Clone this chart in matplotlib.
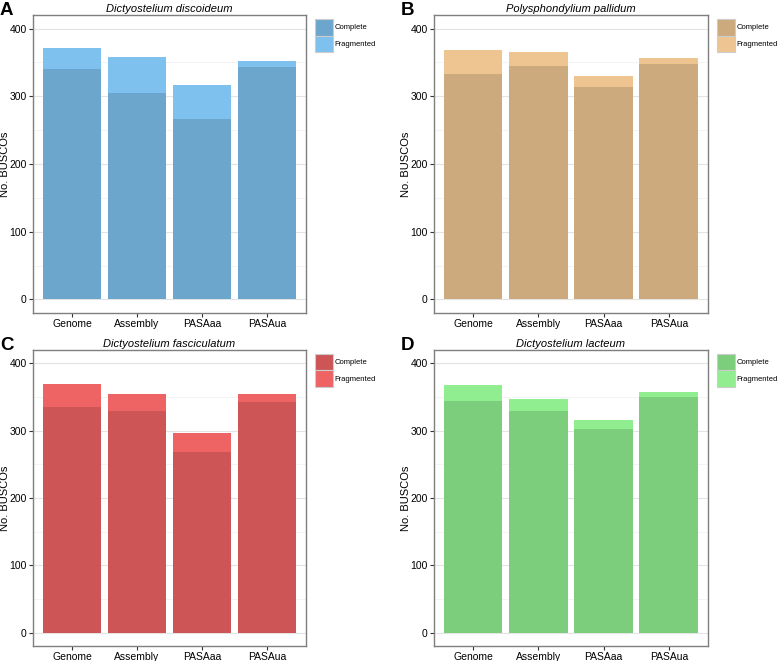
import matplotlib.pyplot as plt
from matplotlib.patches import Patch
from matplotlib.ticker import MultipleLocator

plt.rcParams['font.family'] = ['Liberation Sans', 'DejaVu Sans']

categories = ['Genome', 'Assembly', 'PASAaa', 'PASAua']

species = ['Dictyostelium discoideum', 'Polysphondylium pallidum',
           'Dictyostelium fasciculatum', 'Dictyostelium lacteum']
letters = ['A', 'B', 'C', 'D']

complete_A = [340, 305, 266, 343]
total_A = [371, 358, 316, 352]
complete_B = [333, 345, 314, 348]
total_B = [368, 365, 330, 357]
complete_C = [335, 330, 269, 343]
total_C = [370, 354, 296, 354]
complete_D = [344, 329, 302, 350]
total_D = [368, 347, 316, 357]

complete_colors = ['#6CA6CD', '#CDAA7D', '#CD5555', '#7CCD7C']
fragment_colors = ['#7EC0EE', '#EEC591', '#EE6363', '#90EE90']

W, H = 778, 661
fig = plt.figure(figsize=(W / 100, H / 100), dpi=100)

# pixel boxes: left, right, top, bottom
boxes = [(33, 306, 15, 313), (434, 708, 15, 313),
         (33, 306, 350, 646), (434, 708, 350, 646)]

completes = [complete_A, complete_B, complete_C, complete_D]
totals = [total_A, total_B, total_C, total_D]

x = list(range(len(categories)))

for i, (l, r, t, b) in enumerate(boxes):
    ax = fig.add_axes([l / W, 1 - b / H, (r - l) / W, (b - t) / H])
    comp = completes[i]
    frag = [tt - c for tt, c in zip(totals[i], comp)]
    ax.bar(x, comp, width=0.9, color=complete_colors[i], zorder=3)
    ax.bar(x, frag, bottom=comp, width=0.9, color=fragment_colors[i], zorder=3)

    ax.set_xlim(-0.6, 3.6)
    ax.set_ylim(-20, 420)
    ax.set_xticks(x)
    ax.set_xticklabels(categories, fontsize=7.5)
    ax.yaxis.set_major_locator(MultipleLocator(100))
    ax.yaxis.set_minor_locator(MultipleLocator(50))
    ax.tick_params(axis='both', which='major', length=3, width=0.8,
                   color='#333333', labelsize=7.5, pad=1.5)
    ax.tick_params(axis='y', which='minor', length=0)
    ax.grid(True, which='major', axis='y', color='#E3E3E3', linewidth=0.8, zorder=0)
    ax.grid(True, which='minor', axis='y', color='#F2F2F2', linewidth=0.6, zorder=0)
    for s in ax.spines.values():
        s.set_color('#7F7F7F')
        s.set_linewidth(1.0)

    ax.set_ylabel('No. BUSCOs', fontsize=8)
    ax.yaxis.set_label_coords(-23 / (r - l), 0.5)
    ax.set_title(species[i], fontsize=8, style='italic', pad=2.5)

    handles = [Patch(facecolor=complete_colors[i], edgecolor='#CCCCCC', linewidth=0.8),
               Patch(facecolor=fragment_colors[i], edgecolor='#CCCCCC', linewidth=0.8)]
    ax.legend(handles, ['Complete', 'Fragmented'], loc='upper left',
              bbox_to_anchor=(1.03, 0.99), frameon=False, fontsize=5.5,
              handlelength=2.3, handleheight=3.0, labelspacing=0.0,
              handletextpad=0.3, borderpad=0.1, borderaxespad=0)

    fig.text((l - 33) / W, 1 - (t - 13) / H, letters[i], fontsize=13.5,
             fontweight='bold', ha='left', va='top')

fig.savefig('out.png', dpi=100)
